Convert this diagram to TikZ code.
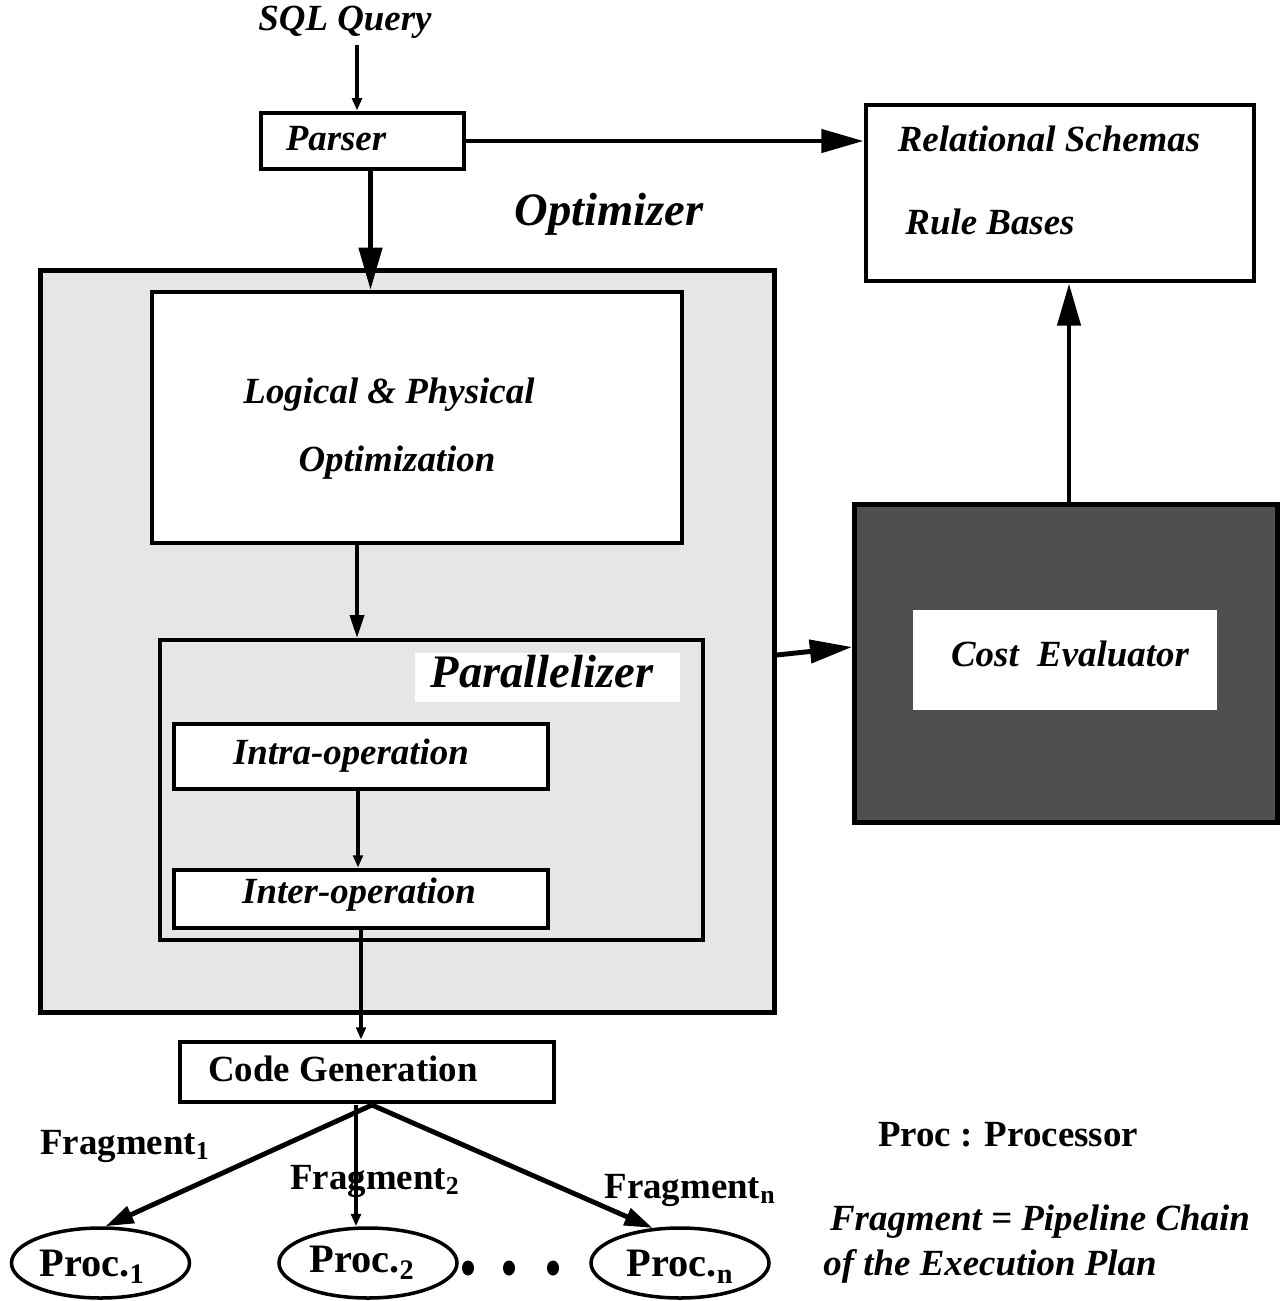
\documentclass[tikz,border=0pt]{standalone}
\usepackage{fontspec}
\setmainfont{Liberation Serif}
\usetikzlibrary{arrows.meta,shapes.geometric}
\begin{document}
\begin{tikzpicture}[x=0.02cm,y=-0.02cm,
  box/.style={draw,line width=2.8pt,inner sep=0pt,fill=white},
  lbl/.style={inner sep=0pt,font=\fontsize{21}{24}\selectfont\bfseries\itshape},
  ulbl/.style={inner sep=0pt,font=\fontsize{21}{24}\selectfont\bfseries},
  biglbl/.style={inner sep=0pt,font=\fontsize{26.5}{30}\selectfont\bfseries\itshape},
  proclbl/.style={inner sep=0pt,font=\fontsize{23}{26}\selectfont\bfseries},
  procell/.style={draw,ellipse,line width=2pt,inner sep=0pt,minimum width=178*0.02cm,minimum height=70*0.02cm},
  thick arr/.style={line width=2.8pt,-{Triangle[length=24pt,width=13pt]}},
  mid arr/.style={line width=2pt,-{Triangle[length=13pt,width=8pt]}},
  small arr/.style={line width=2pt,-{Triangle[length=7pt,width=5.5pt]}},
  dotc/.style={ellipse,fill=black,inner sep=0pt,minimum width=12*0.02cm,minimum height=15*0.02cm}
]
\useasboundingbox (0,0) rectangle (1287,1301);
% boxes
\node[box,minimum width=203*0.02cm,minimum height=56*0.02cm] (parser) at (362.5,141) {};
\node[box,minimum width=388*0.02cm,minimum height=176*0.02cm] (rel) at (1060,193) {};
\node[box,fill={rgb,255:red,230;green,230;blue,230},minimum width=734*0.02cm,minimum height=742*0.02cm] (opt) at (407.5,641.5) {};
\node[box,line width=2.4pt,minimum width=530*0.02cm,minimum height=251*0.02cm] (logical) at (417,417.5) {};
\node[box,line width=2.4pt,fill=none,minimum width=543*0.02cm,minimum height=300*0.02cm] (par) at (431.5,790) {};
\node[fill=white,inner sep=0pt,minimum width=265*0.02cm,minimum height=49*0.02cm] (parbg) at (547.5,677.5) {};
\node[box,minimum width=374*0.02cm,minimum height=65*0.02cm] (intra) at (361,756.5) {};
\node[box,minimum width=374*0.02cm,minimum height=58*0.02cm] (inter) at (361,899) {};
\node[box,minimum width=374*0.02cm,minimum height=60*0.02cm] (code) at (367,1072) {};
\node[box,fill={rgb,255:red,79;green,79;blue,79},minimum width=423*0.02cm,minimum height=318*0.02cm] (cost) at (1066,663.5) {};
\node[fill=white,inner sep=0pt,minimum width=304*0.02cm,minimum height=100*0.02cm] (costbg) at (1065,660) {};
% ellipses
\node[procell] (p1) at (100.5,1263) {};
\node[procell] (p2) at (368,1263) {};
\node[procell] (pn) at (680,1263) {};
% labels
\node[lbl] (sql) at (345,22) {SQL Query};
\node[lbl] (parsert) at (336,139) {Parser};
\node[lbl] (relt) at (1049,139) {Relational Schemas};
\node[lbl] (rulet) at (990,222) {Rule Bases};
\node[biglbl] (optt) at (609,214) {Optimizer};
\node[lbl] (logt1) at (389,395) {Logical \& Physical};
\node[lbl] (logt2) at (397,463) {Optimization};
\node[biglbl] (part) at (542,672) {Parallelizer};
\node[lbl] (intrat) at (351,756) {Intra-operation};
\node[lbl] (intert) at (359,895) {Inter-operation};
\node[ulbl] (codet) at (343,1069) {Code Generation};
\node[lbl] (costt) at (1070,654) {Cost\ \ Evaluator};
\node[proclbl] (p1t) at (92,1267) {Proc.\textsubscript{1}};
\node[proclbl] (p2t) at (362,1263) {Proc.\textsubscript{2}};
\node[proclbl] (pnt) at (680,1267) {Proc.\textsubscript{n}};
\node[ulbl] (f1) at (125,1146) {Fragment\textsubscript{1}};
\node[ulbl] (f2) at (375,1181) {Fragment\textsubscript{2}};
\node[ulbl] (fn) at (690,1190) {Fragment\textsubscript{n}};
\node[ulbl] (proct) at (1008,1135) {Proc : Processor};
\node[lbl] (fragt1) at (1040,1222) {Fragment = Pipeline Chain};
\node[lbl] (fragt2) at (990,1266) {of the Execution Plan};
\node[dotc] (d1) at (468,1268) {};
\node[dotc] (d2) at (509,1268) {};
\node[dotc] (d3) at (553,1268) {};
% connectors
\coordinate (sqlend) at (357,45);
\draw[small arr] (sqlend) -- (sqlend |- parser.north);
\draw[thick arr] (parser.east) -- (parser.east -| rel.west);
\draw[thick arr] ([xshift=8*0.02cm]parser.south) -- ([xshift=8*0.02cm]parser.south |- logical.north);
\draw[mid arr] ([xshift=-4*0.02cm]intra.north |- logical.south) -- ([xshift=-4*0.02cm]intra.north |- par.north);
\draw[small arr] ([xshift=-3*0.02cm]intra.south) -- ([xshift=-3*0.02cm]inter.north);
\draw[small arr] (inter.south) -- (inter.south |- code.north);
\draw[thick arr] ([yshift=-13.5*0.02cm]opt.east) -- ([yshift=16.5*0.02cm]cost.west);
\draw[thick arr] ([xshift=3*0.02cm]cost.north) -- ([xshift=3*0.02cm]cost.north |- rel.south);
\coordinate (fanout) at (372,1105);
\coordinate (f2start) at (356,1105);
\draw[line width=2.8pt,-{Triangle[length=16pt,width=10pt]}] (fanout) -- ([xshift=5*0.02cm]p1.north);
\draw[line width=2.4pt,-{Triangle[length=7pt,width=5.5pt]}] (f2start) -- (f2start |- p2.north);
\draw[line width=2.8pt,-{Triangle[length=16pt,width=10pt]}] (fanout) -- (pn.128);
\end{tikzpicture}
\end{document}
